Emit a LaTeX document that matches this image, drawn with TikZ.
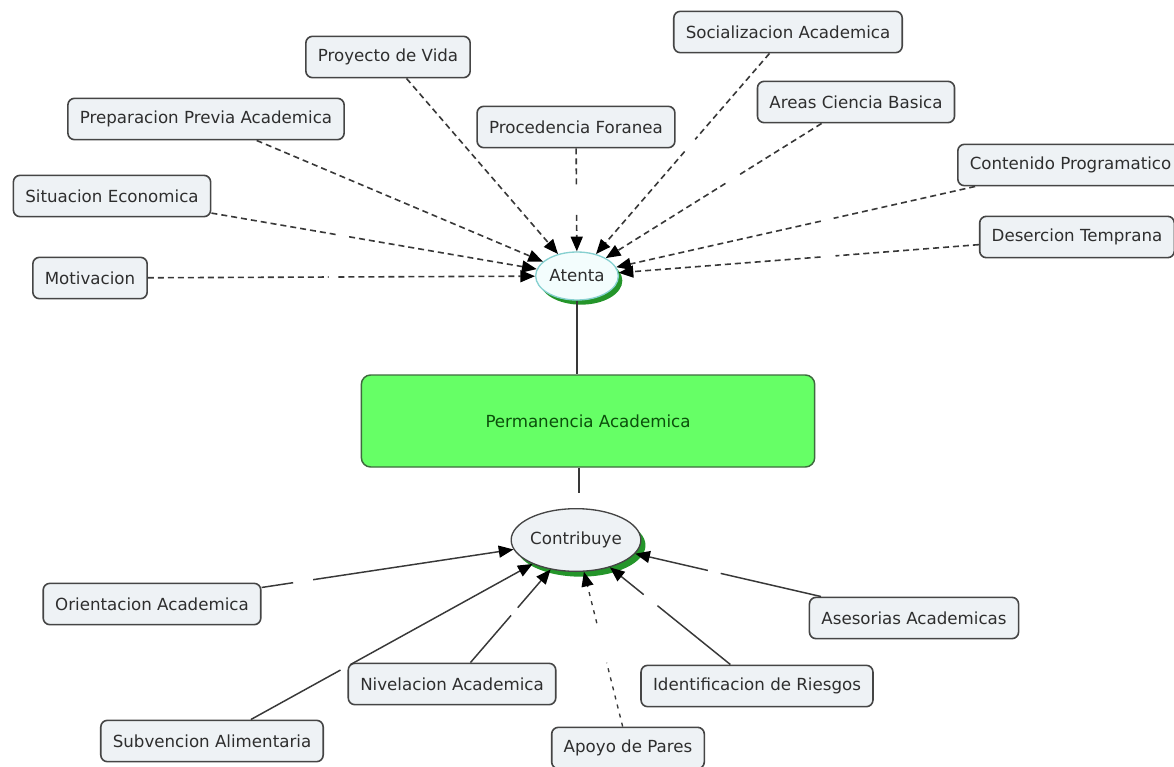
\documentclass[tikz,border=0pt]{standalone}
\usepackage{fontspec}
\setmainfont{DejaVu Sans}
\usetikzlibrary{arrows.meta,calc,shadows,shapes.geometric}
\definecolor{boxfill}{HTML}{EEF2F5}
\definecolor{boxline}{HTML}{454545}
\definecolor{txt}{HTML}{2E2E2E}
\definecolor{linkc}{HTML}{383838}
\definecolor{permfill}{HTML}{66FF66}
\definecolor{permline}{HTML}{3E6A3E}
\definecolor{permtxt}{HTML}{0B4F0B}
\definecolor{atfill}{HTML}{F3FDFD}
\definecolor{atline}{HTML}{86D0D0}
\definecolor{shgreen}{HTML}{24952A}
\tikzset{
  concept/.style={draw=boxline, fill=boxfill, line width=1.2pt, rounded corners=5pt,
    inner xsep=9pt, minimum height=31pt, text=txt, font=\fontsize{12.5}{15}\selectfont},
  dlink/.style={draw=linkc, line width=1.2pt, dash pattern=on 4.5pt off 3pt},
  slink/.style={draw=linkc, line width=1.1pt},
  plink/.style={draw=linkc, line width=1pt, dash pattern=on 3pt off 4pt},
  arrowtip/.style={-{Triangle[length=11pt,width=9pt,color=black]}},
}
\newcommand{\gapconn}[5]{%
  \draw[#1] (#2) -- ($(#2)!#4!(#3)$);
  \draw[#1,arrowtip] ($(#2)!#5!(#3)$) -- (#3);}
\begin{document}
\begin{tikzpicture}[x=0.75pt,y=-0.75pt]
\clip (0,0) rectangle (1174,767);
\fill[white] (0,0) rectangle (1174,767);
% top concepts
\node[concept] (soc)   at (788,32)  {Socializacion Academica};
\node[concept] (proy)  at (388,57)  {Proyecto de Vida};
\node[concept] (areas) at (856,102) {Areas Ciencia Basica};
\node[concept] (prep)  at (206,119) {Preparacion Previa Academica};
\node[concept] (proc)  at (576,127) {Procedencia Foranea};
\node[concept,anchor=west] (cont) at (957,165) {Contenido Programatico};
\node[concept] (sit)   at (112,196) {Situacion Economica};
\node[concept] (des)   at (1077,237) {Desercion Temprana};
\node[concept] (mot)   at (90,278)  {Motivacion};
% linking ellipses and centre
\node[ellipse, draw=atline, fill=atfill, line width=1pt, minimum width=62pt, minimum height=36pt,
  inner sep=0pt, text=txt, font=\fontsize{12.5}{15}\selectfont,
  drop shadow={shadow xshift=3pt, shadow yshift=-3.5pt, fill=shgreen, opacity=1}] (atenta) at (577,276) {Atenta};
\node[draw=permline, fill=permfill, line width=1.1pt, rounded corners=7pt, minimum width=340pt,
  minimum height=69pt, text=permtxt, font=\fontsize{12.5}{15}\selectfont] (perm) at (588,421) {Permanencia Academica};
\node[ellipse, draw=boxline, fill=boxfill, line width=1pt, minimum width=93pt, minimum height=47pt,
  inner sep=0pt, text=txt, font=\fontsize{12.5}{15}\selectfont,
  drop shadow={shadow xshift=3.5pt, shadow yshift=-4pt, fill=shgreen, opacity=1}] (contr) at (576,540) {Contribuye};
% bottom concepts
\node[concept] (orient) at (152,604) {Orientacion Academica};
\node[concept] (ases)   at (914,618) {Asesorias Academicas};
\node[concept] (nivel)  at (452,684) {Nivelacion Academica};
\node[concept] (ident)  at (757,686) {Identificacion de Riesgos};
\node[concept] (subv)   at (212,741) {Subvencion Alimentaria};
\node[concept] (apoyo)  at (628,748) {Apoyo de Pares};
% centre links
\draw[slink] (atenta) -- (atenta |- perm.north);
\coordinate (pcgap) at (579,493);
\draw[slink] (pcgap |- perm.south) -- (pcgap);
% top links
\gapconn{dlink}{mot}{atenta}{0.49}{0.51}
\gapconn{dlink}{sit}{atenta}{0.485}{0.51}
\draw[dlink,arrowtip] (prep) -- (atenta);
\draw[dlink,arrowtip] (proy) -- (atenta);
\gapconn{dlink}{proc}{atenta}{0.41}{0.59}
\gapconn{dlink}{soc}{atenta}{0.44}{0.49}
\gapconn{dlink}{areas}{atenta}{0.425}{0.468}
\gapconn{dlink}{cont}{atenta}{0.48}{0.506}
\gapconn{dlink}{des}{atenta}{0.483}{0.513}
% bottom links
\gapconn{slink}{orient}{contr}{0.333}{0.38}
\gapconn{slink}{subv}{contr}{0.353}{0.38}
\gapconn{slink}{nivel}{contr}{0.476}{0.53}
\gapconn{plink}{apoyo}{contr}{0.41}{0.6}
\gapconn{slink}{ident}{contr}{0.55}{0.626}
\gapconn{slink}{ases}{contr}{0.572}{0.61}
\end{tikzpicture}
\end{document}
